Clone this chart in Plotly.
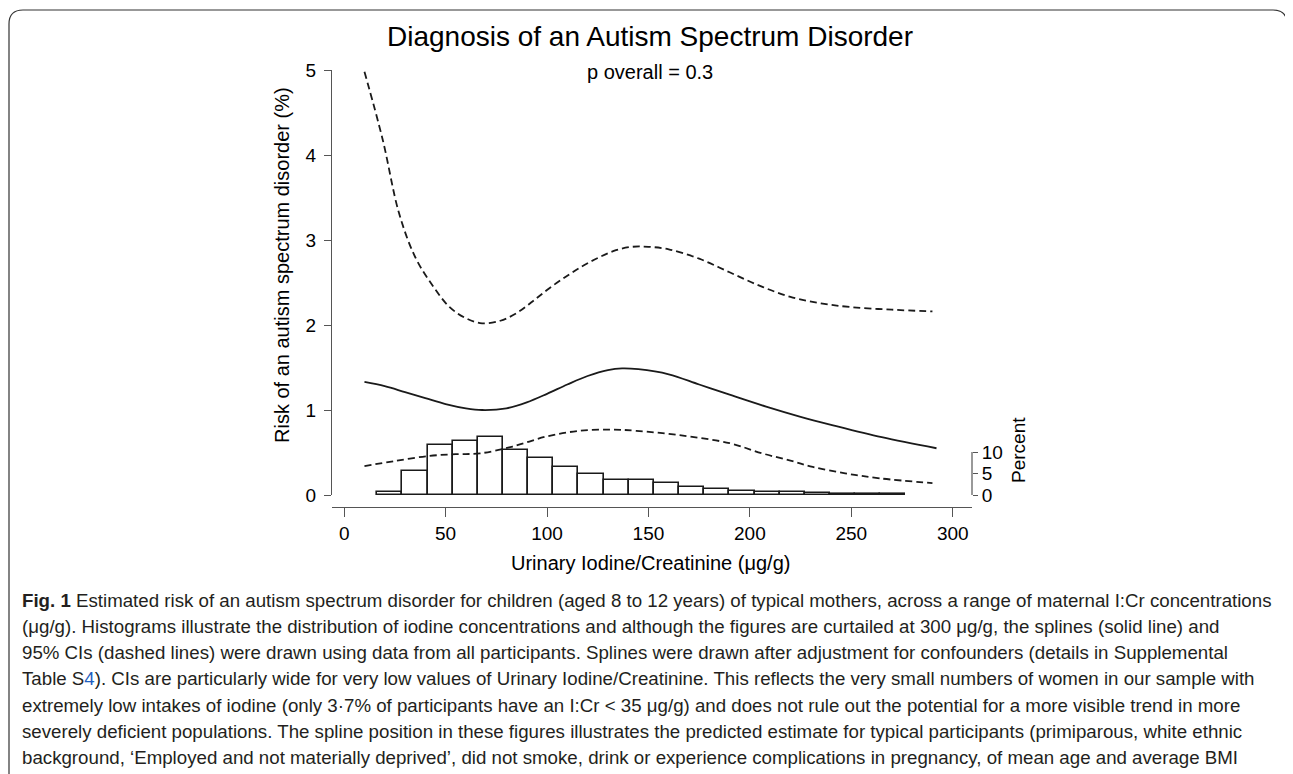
import plotly.graph_objects as go

# ---------------- data ----------------
# histogram (percent of participants per bin)
hist_bin_centers = [22.5, 34.9, 47.3, 59.7, 72.1, 84.5, 96.9, 109.3, 121.7, 134.1, 146.5,
                    158.9, 171.3, 183.7, 196.1, 208.5, 220.9, 233.3, 245.7, 258.1, 270.5]
hist_percent = [0.7, 5.6, 11.6, 12.6, 13.5, 10.5, 8.6, 6.5, 4.9, 3.5, 3.5,
                2.8, 1.8, 1.3, 1.0, 0.8, 0.6, 0.5, 0.3, 0.2, 0.12]
hist_bin_width = 12.4

# spline estimate (solid)
est_x = [10, 20, 30, 40, 50, 60, 68, 80, 90, 100, 110, 120, 130, 137, 145, 160, 175, 190, 208, 225, 241, 265, 292]
est_y = [1.33, 1.28, 1.21, 1.14, 1.07, 1.02, 1.0, 1.02, 1.09, 1.19, 1.30, 1.40, 1.47, 1.49, 1.48, 1.42, 1.30,
         1.18, 1.04, 0.92, 0.82, 0.68, 0.55]

# upper 95% CI (dashed)
upper_x = [10, 19, 27, 35, 44, 52, 60, 68, 77, 85, 93, 101, 110, 118, 126, 134, 142, 150, 160, 175, 190, 205,
           220, 235, 250, 270, 290]
upper_y = [4.98, 4.18, 3.32, 2.80, 2.45, 2.21, 2.08, 2.02, 2.05, 2.14, 2.28, 2.43, 2.58, 2.70, 2.80, 2.88, 2.92,
           2.92, 2.89, 2.78, 2.62, 2.46, 2.33, 2.255, 2.21, 2.18, 2.16]

# lower 95% CI (dashed)
lower_x = [10, 25, 42, 55, 67, 83, 100, 116, 132, 144, 165, 190, 206, 220, 231, 247, 264, 290]
lower_y = [0.34, 0.40, 0.46, 0.48, 0.49, 0.57, 0.69, 0.755, 0.77, 0.755, 0.705, 0.61, 0.49, 0.405, 0.33, 0.255,
           0.196, 0.14]

x_ticks = [0, 50, 100, 150, 200, 250, 300]
risk_ticks = [0, 1, 2, 3, 4, 5]
pct_ticks = [0, 5, 10]

title_text = "Diagnosis of an Autism Spectrum Disorder"
subtitle_text = "p overall = 0.3"
x_title = "Urinary Iodine/Creatinine (μg/g)"
y_title = "Risk of an autism spectrum disorder (%)"
pct_title = "Percent"

caption_lines = [
    "<b>Fig. 1</b> Estimated risk of an autism spectrum disorder for children (aged 8 to 12 years) of typical mothers, across a range of maternal I:Cr concentrations",
    "(μg/g). Histograms illustrate the distribution of iodine concentrations and although the figures are curtailed at 300 μg/g, the splines (solid line) and",
    "95% CIs (dashed lines) were drawn using data from all participants. Splines were drawn after adjustment for confounders (details in Supplemental",
    "Table S<span style='color:#1f5fbf'>4</span>). CIs are particularly wide for very low values of Urinary Iodine/Creatinine. This reflects the very small numbers of women in our sample with",
    "extremely low intakes of iodine (only 3·7% of participants have an I:Cr &lt; 35 μg/g) and does not rule out the potential for a more visible trend in more",
    "severely deficient populations. The spline position in these figures illustrates the predicted estimate for typical participants (primiparous, white ethnic",
    "background, ‘Employed and not materially deprived’, did not smoke, drink or experience complications in pregnancy, of mean age and average BMI",
]

# ---------------- layout geometry (screen pixels of the reference) ----------------
OFF = 8                     # page body margin
W, H = 1293 - OFF, 774 - OFF
L_PX, R_PX = 332, 972       # plot area left / right (screen)
T_PX, B_PX = 70, 507        # plot area top / x axis line (screen)
ZERO_PX = 495               # y = 0 (screen)
PCT10_PX = 452              # 10 % (screen)
plot_w = R_PX - L_PX
plot_h = B_PX - T_PX
y_dom0 = (B_PX - ZERO_PX) / plot_h
pct_top = 10 * (ZERO_PX - T_PX) / (ZERO_PX - PCT10_PX)


def px(xp):
    return (xp - L_PX) / plot_w


def py(yp):
    return (B_PX - yp) / plot_h


FONT = "Liberation Sans, Arial, Helvetica, sans-serif"
AX = "#555555"
INK = "#1a1a1a"

fig = go.Figure()

fig.add_trace(go.Bar(
    x=hist_bin_centers, y=hist_percent, width=hist_bin_width,
    marker=dict(color="white", line=dict(color=INK, width=1.6)),
    xaxis="x", yaxis="y", showlegend=False, hoverinfo="skip"))

fig.add_trace(go.Scatter(
    x=upper_x, y=upper_y, mode="lines", line=dict(color=INK, width=1.8, dash="7px,4px", shape="spline"),
    xaxis="x", yaxis="y2", showlegend=False))
fig.add_trace(go.Scatter(
    x=lower_x, y=lower_y, mode="lines", line=dict(color=INK, width=1.8, dash="7px,4px", shape="spline"),
    xaxis="x", yaxis="y2", showlegend=False))
fig.add_trace(go.Scatter(
    x=est_x, y=est_y, mode="lines", line=dict(color=INK, width=1.8, shape="spline"),
    xaxis="x", yaxis="y2", showlegend=False))

annotations = [
    dict(text=title_text, x=px(650), y=py(36), xref="paper", yref="paper", showarrow=False,
         font=dict(size=28, color="black", family=FONT), xanchor="center", yanchor="middle"),
    dict(text=subtitle_text, x=px(650), y=py(72), xref="paper", yref="paper", showarrow=False,
         font=dict(size=20, color="black", family=FONT), xanchor="center", yanchor="middle"),
    dict(text=y_title, x=px(282), y=py(265), xref="paper", yref="paper", showarrow=False, textangle=-90,
         font=dict(size=20, color="black", family=FONT), xanchor="center", yanchor="middle"),
    dict(text=x_title, x=px(650), y=py(563), xref="paper", yref="paper", showarrow=False,
         font=dict(size=20, color="black", family=FONT), xanchor="center", yanchor="middle"),
    dict(text=pct_title, x=px(1018), y=py(450), xref="paper", yref="paper", showarrow=False, textangle=-90,
         font=dict(size=19, color="black", family=FONT), xanchor="center", yanchor="middle"),
]

for i, line in enumerate(caption_lines):
    annotations.append(dict(
        text=line, x=px(20), y=py(600 + i * 26.3), xref="paper", yref="paper", showarrow=False,
        xanchor="left", yanchor="middle", align="left",
        font=dict(size=18.7, color="#231f20", family=FONT)))

# rounded frame
fl, fr, ft, fb, rad = 9, 1287, 10, 800, 14
rx, ry = rad / plot_w, rad / plot_h
frame_path = (f"M {px(fl)},{py(fb)} L {px(fl)},{py(ft) - ry} Q {px(fl)},{py(ft)} {px(fl) + rx},{py(ft)} "
              f"L {px(fr) - rx},{py(ft)} Q {px(fr)},{py(ft)} {px(fr)},{py(ft) - ry} L {px(fr)},{py(fb)}")

shapes = [
    dict(type="path", path=frame_path, xref="paper", yref="paper", line=dict(color="#333333", width=1.2)),
    dict(type="line", xref="paper", yref="y", x0=1, x1=1, y0=0, y1=10, line=dict(color=AX, width=1.2)),
]

fig.update_layout(
    width=W, height=H,
    margin=dict(l=L_PX - OFF, r=W - (R_PX - OFF), t=T_PX - OFF, b=H - (B_PX - OFF), pad=0),
    paper_bgcolor="white", plot_bgcolor="white",
    font=dict(family=FONT, color="black"),
    bargap=0,
    xaxis=dict(domain=[0, 1], range=[-6, 309.5], anchor="free", position=0,
               tickvals=x_ticks, ticks="outside", ticklen=9, tickwidth=1.2, tickcolor=AX,
               showline=True, linecolor=AX, linewidth=1.2, showgrid=False, zeroline=False,
               tickfont=dict(size=19, color="black")),
    yaxis=dict(domain=[y_dom0, 1], range=[0, pct_top], side="right", anchor="free", position=1,
               tickvals=pct_ticks, ticks="outside", ticklen=5, tickwidth=1.2, tickcolor=AX,
               showline=False, showgrid=False, zeroline=False,
               tickfont=dict(size=19, color="black")),
    yaxis2=dict(overlaying="y", side="left", anchor="x", range=[0, 5],
                tickvals=risk_ticks, ticks="outside", ticklen=7, tickwidth=1.2, tickcolor=AX,
                showline=True, linecolor=AX, linewidth=1.2, showgrid=False, zeroline=False,
                ticklabelstandoff=4,
                tickfont=dict(size=19, color="black")),
    annotations=annotations,
    shapes=shapes,
)

fig.write_html("out.html")
